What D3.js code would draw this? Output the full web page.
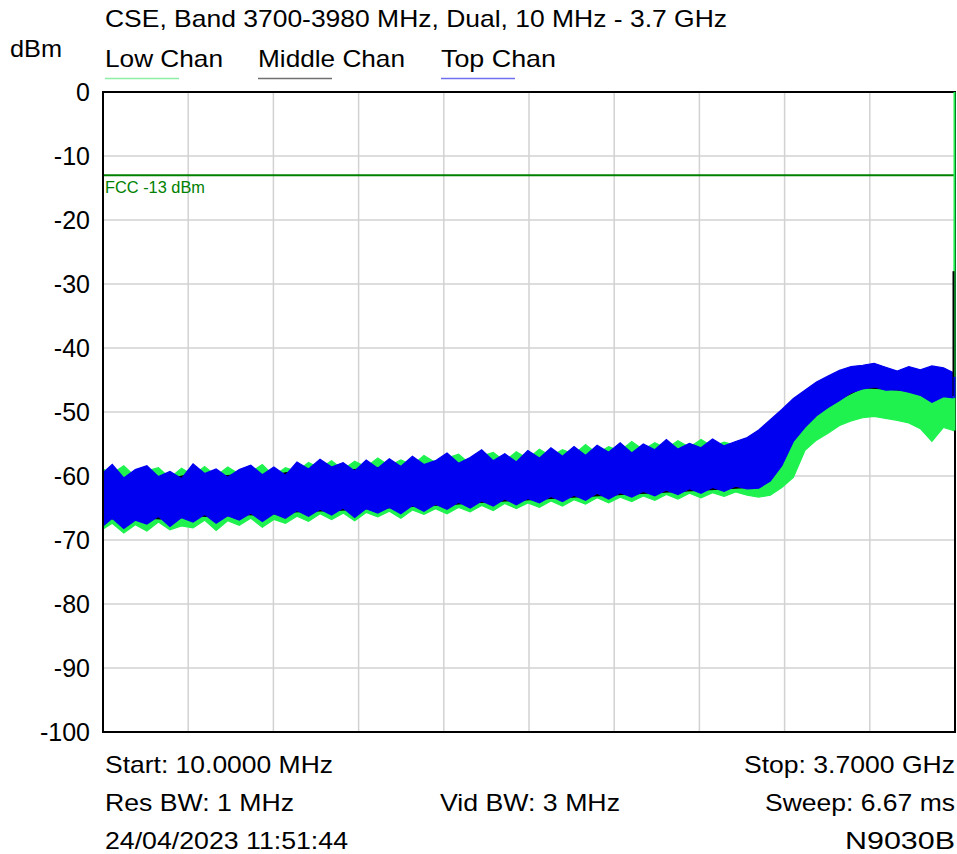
<!DOCTYPE html>
<html>
<head>
<meta charset="utf-8">
<script src="https://cdn.jsdelivr.net/npm/d3@7"></script>
<style>
  body { margin: 0; background: #fff; }
  text { font-family: 'Liberation Sans', Arial, sans-serif; fill: #000; }
</style>
</head>
<body>
<svg id="chart"></svg>
<script>
// frequency grid in MHz (shared by low / top chan traces)
const freqMHz = [10, 50, 100, 150, 200, 250, 300, 350, 400, 450, 500, 550, 600, 650, 700, 750, 800, 850, 900, 950,
  1000, 1050, 1100, 1150, 1200, 1250, 1300, 1350, 1400, 1450, 1500, 1550, 1600, 1650, 1700, 1750, 1800, 1850, 1900, 1950,
  2000, 2050, 2100, 2150, 2200, 2250, 2300, 2350, 2400, 2450, 2500, 2550, 2600, 2650, 2700, 2750, 2800, 2850, 2900, 2950,
  3000, 3050, 3100, 3150, 3200, 3250, 3300, 3350, 3400, 3450, 3500, 3550, 3600, 3650, 3695, 3700]

// Top Chan (blue) trace envelope, dBm
const topHi = [-59.5, -58.2, -60.3, -59.0, -58.4, -60.1, -59.3, -60.4, -58.1, -59.6, -58.9, -60.2, -59.0, -58.3, -59.8, -58.6, -59.9, -57.8, -58.9, -57.4,
  -58.6, -57.9, -59.2, -57.5, -58.8, -57.3, -58.5, -56.9, -58.2, -57.6, -56.4, -58.0, -57.1, -55.9, -57.6, -56.5, -57.8, -56.0, -57.2, -55.6,
  -56.9, -55.4, -56.8, -55.2, -56.3, -54.8, -56.4, -55.0, -55.9, -54.3, -55.8, -54.9, -55.6, -54.2, -55.3, -54.6, -54.0, -52.8, -51.2, -49.6,
  -47.9, -46.6, -45.3, -44.4, -43.5, -42.9, -42.7, -42.4, -43.0, -43.6, -42.9, -43.4, -42.8, -43.1, -43.9, -44.5]
const topLo = [-67.8, -66.6, -68.2, -66.9, -67.5, -66.3, -67.9, -66.5, -67.2, -66.0, -67.4, -66.2, -66.9, -65.8, -67.1, -65.9, -66.6, -65.4, -66.3, -65.2,
  -66.1, -65.0, -66.5, -65.1, -65.8, -64.9, -65.9, -64.6, -65.5, -64.4, -65.2, -64.1, -65.0, -63.9, -64.7, -63.6, -64.5, -63.5, -64.2, -63.2,
  -64.0, -63.0, -63.8, -62.7, -63.6, -62.6, -63.3, -62.4, -63.1, -62.2, -62.9, -62.0, -62.7, -61.8, -62.4, -61.6, -62.0, -61.9, -60.8, -58.4,
  -54.6, -52.4, -50.6, -49.3, -48.2, -47.0, -46.4, -46.1, -46.6, -46.5, -46.9, -47.4, -48.5, -47.6, -47.8, -47.8]

// Low Chan (green) trace envelope, dBm
const lowHi = [-58.9, -59.6, -58.4, -60.1, -59.2, -58.7, -60.3, -58.8, -59.9, -58.5, -60.0, -58.6, -59.7, -59.4, -58.2, -60.0, -58.7, -59.3, -57.9, -58.8,
  -57.6, -59.0, -57.7, -58.6, -57.2, -58.4, -57.5, -58.3, -56.8, -57.9, -57.2, -56.6, -58.1, -56.9, -56.3, -57.7, -56.2, -57.3, -55.8, -56.9,
  -55.9, -56.6, -55.1, -56.5, -55.4, -56.1, -54.6, -55.9, -54.8, -55.7, -54.5, -55.5, -54.3, -55.4, -54.7, -55.2, -55.0, -54.8, -53.9, -52.6,
  -50.9, -49.4, -48.3, -47.2, -46.5, -45.9, -45.6, -45.4, -45.8, -46.2, -45.9, -46.4, -46.0, -46.3, -46.8, 0]
const lowLo = [-68.3, -67.4, -68.9, -67.6, -68.6, -67.2, -68.4, -67.8, -68.1, -66.9, -68.5, -67.0, -67.7, -66.6, -68.0, -66.8, -67.4, -66.3, -67.1, -65.9,
  -66.8, -65.8, -67.0, -65.7, -66.4, -65.5, -66.6, -65.3, -66.0, -65.1, -65.9, -64.9, -65.6, -64.6, -65.4, -64.3, -65.1, -64.2, -64.9, -63.9,
  -64.7, -63.7, -64.4, -63.4, -64.2, -63.3, -64.0, -63.1, -63.8, -62.9, -63.6, -62.7, -63.4, -62.6, -63.2, -62.5, -63.0, -63.3, -63.0, -61.8,
  -60.2, -56.0, -54.4, -53.3, -52.1, -51.4, -50.9, -50.7, -51.0, -51.3, -51.7, -52.6, -54.6, -52.4, -52.9, -52.9]

// Middle Chan (black) trace envelope, coarser grid
const midFreqMHz = [10, 100, 200, 300, 400, 500, 600, 700, 800, 900, 1000, 1100, 1200, 1300, 1400, 1500, 1600, 1700, 1800, 1900,
  2000, 2100, 2200, 2300, 2400, 2500, 2600, 2700, 2800, 2900, 3000, 3100, 3200, 3300, 3400, 3500, 3600, 3650, 3695, 3700]
const midHi = [-60.2, -60.8, -59.9, -60.5, -59.6, -60.1, -59.8, -60.3, -59.5, -59.2, -59.4, -59.0, -58.7, -58.9, -58.4, -58.0, -58.2, -57.7, -57.9, -57.3,
  -57.5, -57.0, -56.8, -56.9, -56.4, -56.3, -56.0, -55.8, -55.2, -52.0, -48.7, -46.0, -44.3, -43.6, -43.8, -43.9, -43.9, -44.0, -44.5, -28]
const midLo = [-66.5, -66.9, -66.6, -66.8, -66.2, -66.4, -66.0, -66.1, -65.7, -65.5, -65.4, -65.2, -65.0, -64.9, -64.6, -64.5, -64.2, -64.0, -63.8, -63.6,
  -63.4, -63.2, -63.0, -62.8, -62.6, -62.4, -62.2, -62.0, -61.8, -60.4, -54.2, -50.3, -48.0, -46.2, -46.4, -46.7, -47.2, -47.4, -47.5, -47.5]

const yTicks = [0, -10, -20, -30, -40, -50, -60, -70, -80, -90, -100]
const limitDbm = -13
const legendNames = ['Low Chan', 'Middle Chan', 'Top Chan']

const W = 957
const H = 854
const pLeft = 103, pRight = 955, pTop = 92, pBottom = 732

const svg = d3.select('#chart')
  .attr('width', W)
  .attr('height', H)

const xScale = d3.scaleLinear()
  .domain([10, 3700])
  .range([pLeft, pRight])
const yScale = d3.scaleLinear()
  .domain([-100, 0])
  .range([pBottom, pTop])

// grid: 10 divisions horizontally, 10 dB vertically
const xGrid = d3.range(11).map(i => 10 + i * 369)
svg.append('g')
  .selectAll('line')
  .data(xGrid)
  .enter()
  .append('line')
  .attr('x1', d => xScale(d)).attr('x2', d => xScale(d))
  .attr('y1', pTop).attr('y2', pBottom)
  .attr('stroke', '#d2d2d2')
  .attr('stroke-width', 1.5)
svg.append('g')
  .selectAll('line')
  .data(yTicks)
  .enter()
  .append('line')
  .attr('x1', pLeft).attr('x2', pRight)
  .attr('y1', d => yScale(d)).attr('y2', d => yScale(d))
  .attr('stroke', '#d2d2d2')
  .attr('stroke-width', 1.5)

// y axis labels (axisLeft, then strip the domain and ticks)
// plain hyphen for the minus, like the analyser print-out
const yAxis = svg.append('g')
  .attr('transform', `translate(${pLeft - 13}, 0)`)
  .call(d3.axisLeft(yScale).tickValues(yTicks).tickSize(0).tickPadding(0).tickFormat(d => String(d)))
yAxis.select('.domain').remove()
yAxis.selectAll('text')
  .style('font-family', "'Liberation Sans', Arial, sans-serif")
  .style('font-size', '25px')
  .attr('fill', '#000')

svg.append('defs').append('clipPath').attr('id', 'plot')
  .append('rect')
  .attr('x', pLeft).attr('y', pTop)
  .attr('width', pRight - pLeft + 1).attr('height', pBottom - pTop)

// traces
const traces = [
  { name: 'Low Chan', color: '#1ff24f', f: freqMHz, hi: lowHi, lo: lowLo },
  { name: 'Middle Chan', color: '#000000', f: midFreqMHz, hi: midHi, lo: midLo },
  { name: 'Top Chan', color: '#0000f0', f: freqMHz, hi: topHi, lo: topLo }
]

const band = d3.area()
  .x(d => xScale(d[0]))
  .y0(d => yScale(d[2]))
  .y1(d => yScale(d[1]))

const traceG = svg.append('g').attr('clip-path', 'url(#plot)')
traces.forEach(t => {
  let pts = t.f.map((f, i) => [f, t.hi[i], t.lo[i]])
  traceG.append('path')
    .datum(pts)
    .attr('d', band)
    .attr('fill', t.color)
    .attr('stroke', t.color)
    .attr('stroke-width', 1.2)
    .attr('stroke-linejoin', 'miter')
})

// FCC limit line
svg.append('line')
  .attr('x1', pLeft).attr('x2', pRight)
  .attr('y1', yScale(limitDbm)).attr('y2', yScale(limitDbm))
  .attr('stroke', '#008000')
  .attr('stroke-width', 2)
svg.append('text')
  .attr('x', pLeft + 2)
  .attr('y', yScale(limitDbm) + 18)
  .attr('textLength', 100)
  .attr('lengthAdjust', 'spacingAndGlyphs')
  .style('font-size', '17px')
  .style('fill', '#008000')
  .text('FCC -13 dBm')

// frame
svg.append('rect')
  .attr('x', pLeft).attr('y', pTop)
  .attr('width', pRight - pLeft).attr('height', pBottom - pTop)
  .attr('fill', 'none')
  .attr('stroke', '#000')
  .attr('stroke-width', 2)

// redraw the far right edge of the traces over the frame
const edge = svg.append('g')
traces.forEach(t => {
  let n = t.f.length - 1
  edge.append('line')
    .attr('x1', xScale(t.f[n]) - (t.name === 'Middle Chan' ? 1.5 : 0.5))
    .attr('x2', xScale(t.f[n]) - (t.name === 'Middle Chan' ? 1.5 : 0.5))
    .attr('y1', yScale(t.hi[n]))
    .attr('y2', yScale(t.lo[n]))
    .attr('stroke', t.color)
    .attr('stroke-width', 2)
})

// title, unit, legend
svg.append('text')
  .attr('x', 105).attr('y', 27)
  .attr('textLength', 622)
  .attr('lengthAdjust', 'spacingAndGlyphs')
  .style('font-size', '24px')
  .text('CSE, Band 3700-3980 MHz, Dual, 10 MHz - 3.7 GHz')
svg.append('text')
  .attr('x', 10).attr('y', 57)
  .attr('textLength', 52)
  .attr('lengthAdjust', 'spacingAndGlyphs')
  .style('font-size', '24px')
  .text('dBm')

const legendX = [105, 258, 441]
const legendW = [118, 147, 115]
const legendLine = ['#8cf0a4', '#707070', '#7070ee']
legendNames.forEach((name, i) => {
  svg.append('text')
    .attr('x', legendX[i]).attr('y', 67)
    .attr('textLength', legendW[i])
    .attr('lengthAdjust', 'spacingAndGlyphs')
    .style('font-size', '24px')
    .text(name)
  svg.append('line')
    .attr('x1', legendX[i]).attr('x2', legendX[i] + 74)
    .attr('y1', 78.5).attr('y2', 78.5)
    .attr('stroke', legendLine[i])
    .attr('stroke-width', 1.5)
})

// footer info
const footer = [
  { t: 'Start: 10.0000 MHz', x: 105, y: 773, a: 'start', w: 228 },
  { t: 'Stop: 3.7000 GHz', x: 955, y: 773, a: 'end', w: 211 },
  { t: 'Res BW: 1 MHz', x: 105, y: 811, a: 'start', w: 189 },
  { t: 'Vid BW: 3 MHz', x: 440, y: 811, a: 'start', w: 180 },
  { t: 'Sweep: 6.67 ms', x: 955, y: 811, a: 'end', w: 190 },
  { t: '24/04/2023 11:51:44', x: 105, y: 849, a: 'start', w: 243 },
  { t: 'N9030B', x: 955, y: 849, a: 'end', w: 110 }
]
footer.forEach(d => {
  svg.append('text')
    .attr('x', d.x).attr('y', d.y)
    .attr('text-anchor', d.a)
    .attr('textLength', d.w)
    .attr('lengthAdjust', 'spacingAndGlyphs')
    .style('font-size', '24px')
    .text(d.t)
})
</script>
</body>
</html>
